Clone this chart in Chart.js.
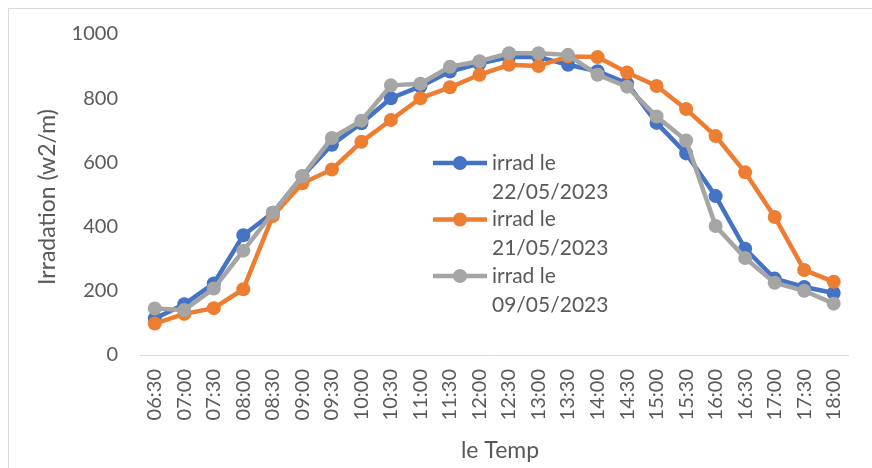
<!DOCTYPE html>
<html>
<head>
<meta charset="utf-8">
<script src="https://cdn.jsdelivr.net/npm/chart.js@4/dist/chart.umd.min.js"></script>
<style>
  html, body { margin: 0; padding: 0; background: #fff; }
  #wrap { width: 872px; height: 468px; position: relative; }
</style>
</head>
<body>
<div id="wrap"><canvas id="chart"></canvas></div>
<script>
const times = ['06:30', '07:00', '07:30', '08:00', '08:30', '09:00', '09:30', '10:00',
  '10:30', '11:00', '11:30', '12:00', '12:30', '13:00', '13:30', '14:00',
  '14:30', '15:00', '15:30', '16:00', '16:30', '17:00', '17:30', '18:00'];
const irrad2205 = [114, 158, 223, 373, 443, 557, 655, 722, 800, 837, 883, 908,
  928, 928, 904, 884, 846, 723, 628, 495, 331, 238, 212, 193];
const irrad2105 = [98, 128, 146, 205, 433, 535, 578, 664, 732, 800, 834, 873,
  904, 900, 930, 928, 880, 838, 766, 682, 569, 430, 265, 228];
const irrad0905 = [145, 140, 207, 325, 443, 557, 676, 730, 840, 845, 898, 915,
  940, 940, 935, 873, 836, 743, 668, 402, 302, 225, 200, 160];
const seriesNames = [['irrad le', '22/05/2023'], ['irrad le', '21/05/2023'], ['irrad le', '09/05/2023']];
const yTicks = [0, 200, 400, 600, 800, 1000];

const textColor = '#595959';
const fontName = 'Lato';

function lineSet(name, values, color, order) {
  return {
    label: name.join(' '),
    data: values,
    borderColor: color,
    backgroundColor: color,
    borderWidth: 4.5,
    pointRadius: 7,
    pointBorderWidth: 0,
    pointBackgroundColor: color,
    tension: 0,
    order: order
  };
}

// frame + titles + legend drawn by hand
const extras = {
  id: 'extras',
  beforeDraw(chart) {
    const ctx = chart.ctx;
    ctx.save();
    ctx.strokeStyle = '#d9d9d9';
    ctx.lineWidth = 1;
    ctx.strokeRect(8.5, 8.5, 900, 900);
    ctx.restore();
  },
  afterDraw(chart) {
    const ctx = chart.ctx;
    ctx.save();
    ctx.fillStyle = textColor;
    ctx.textAlign = 'center';
    ctx.textBaseline = 'middle';
    ctx.font = '23px ' + fontName;
    ctx.fillText('le Temp', 500, 451);
    ctx.translate(48, 197);
    ctx.rotate(-Math.PI / 2);
    ctx.fillText('Irradation (w2/m)', 0, 0);
    ctx.restore();

    // legend
    ctx.save();
    const ys = [163, 219.5, 276];
    chart.data.datasets.forEach((ds, i) => {
      const y = ys[i];
      ctx.strokeStyle = ds.borderColor;
      ctx.lineWidth = 4.5;
      ctx.beginPath();
      ctx.moveTo(433, y);
      ctx.lineTo(487, y);
      ctx.stroke();
      ctx.fillStyle = ds.borderColor;
      ctx.beginPath();
      ctx.arc(460, y, 7, 0, Math.PI * 2);
      ctx.fill();
      ctx.fillStyle = textColor;
      ctx.font = '21px ' + fontName;
      ctx.textAlign = 'left';
      ctx.textBaseline = 'middle';
      ctx.fillText(seriesNames[i][0], 492, y);
      ctx.fillText(seriesNames[i][1], 492, y + 29);
    });
    ctx.restore();
  }
};

new Chart(document.getElementById('chart'), {
  type: 'line',
  data: {
    labels: times,
    datasets: [
      lineSet(seriesNames[0], irrad2205, '#4472C4', 3),
      lineSet(seriesNames[1], irrad2105, '#ED7D31', 2),
      lineSet(seriesNames[2], irrad0905, '#A5A5A5', 1)
    ]
  },
  options: {
    responsive: true,
    maintainAspectRatio: false,
    animation: false,
    layout: { padding: { top: 30, right: 14, left: 0, bottom: 0 } },
    plugins: {
      legend: { display: false },
      tooltip: { enabled: false }
    },
    scales: {
      x: {
        offset: true,
        grid: { display: false, drawTicks: false },
        border: { display: true, color: '#d9d9d9', width: 1 },
        ticks: {
          autoSkip: false,
          minRotation: 90,
          maxRotation: 90,
          padding: 14,
          color: textColor,
          font: { family: fontName, size: 20 }
        },
        afterFit(scale) { scale.height = 113; }
      },
      y: {
        min: 0,
        max: 1000,
        grid: { display: false, drawTicks: false },
        border: { display: false },
        afterBuildTicks(scale) { scale.ticks = yTicks.map(v => ({ value: v })); },
        ticks: {
          padding: 22,
          color: textColor,
          font: { family: fontName, size: 20 },
          callback: v => String(v)
        },
        afterFit(scale) { scale.width = 140; }
      }
    }
  },
  plugins: [extras]
});
</script>
</body>
</html>
